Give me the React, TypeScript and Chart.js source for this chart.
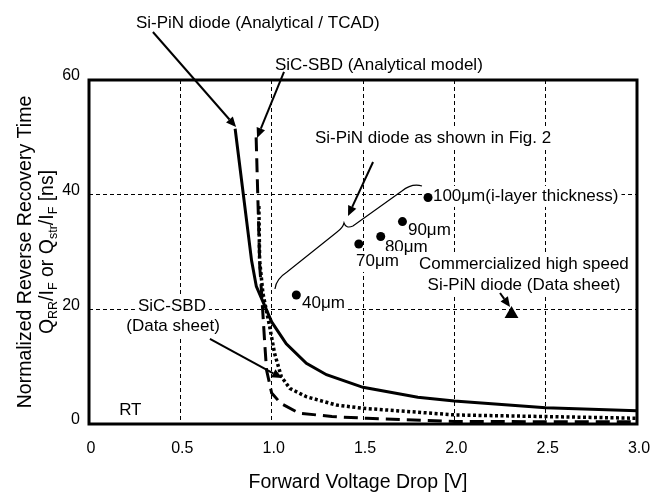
import React, { useEffect, useRef } from 'react';
import { Chart, registerables } from 'chart.js';

Chart.register(...registerables);

const FONT = '"Liberation Sans", Arial, Helvetica, sans-serif';

// Si-PiN diode (Analytical / TCAD) — solid line
const siPinV = [0.8, 0.89, 0.916, 1.0, 1.08, 1.19, 1.3, 1.5, 1.8, 2.0, 2.5, 3.0];
const siPinQ = [51.5, 28.5, 24.0, 17.8, 14.0, 10.6, 8.6, 6.4, 4.65, 4.0, 2.85, 2.3];

// SiC-SBD (Analytical model) — dashed line
const sbdModelV = [0.915, 0.935, 0.945, 0.962, 0.972, 1.0, 1.05, 1.15, 1.33, 1.52, 2.0, 2.5, 3.0];
const sbdModelQ = [50, 27.4, 22.8, 14.1, 9.4, 5.4, 3.6, 1.9, 1.3, 1.0, 0.45, 0.4, 0.38];

// SiC-SBD (Data sheet) — dotted line
const sbdSheetV = [0.93, 0.934, 0.952, 0.989, 1.016, 1.053, 1.1, 1.19, 1.355, 1.5, 2.01, 2.5, 3.0];
const sbdSheetQ = [38, 28.6, 22.8, 17.0, 12.3, 8.25, 6.2, 4.76, 3.3, 2.74, 1.57, 1.3, 1.0];

// Si-PiN diode as shown in Fig. 2 (i-layer thickness)
const fig2V = [1.135, 1.477, 1.597, 1.716, 1.856];
const fig2Q = [22.5, 31.4, 32.7, 35.3, 39.5];

// Commercialized high speed Si-PiN diode (Data sheet)
const commV = [2.313];
const commQ = [19.2];

const xTicks = [0, 0.5, 1.0, 1.5, 2.0, 2.5, 3.0];
const xTickLabels = ['0', '0.5', '1.0', '1.5', '2.0', '2.5', '3.0'];
const yTicks = [0, 20, 40, 60];
const yTickLabels = ['0', '20', '40', '60'];

// annotation texts (anchor in data units: left x / centre x, baseline y)
const notes = [
  { t: 'Si-PiN diode (Analytical / TCAD)', x: 0.257, y: 69.0 },
  { t: 'SiC-SBD (Analytical model)', x: 1.018, y: 61.75 },
  { t: 'Si-PiN diode as shown in Fig. 2', x: 1.237, y: 49.0, box: true },
  { t: '100\u03BCm(i-layer thickness)', x: 1.883, y: 38.9, box: true },
  { t: '90\u03BCm', x: 1.746, y: 32.97 },
  { t: '80\u03BCm', x: 1.62, y: 30.0 },
  { t: '70\u03BCm', x: 1.462, y: 27.56, box: true },
  { t: '40\u03BCm', x: 1.166, y: 20.23, box: true },
  { t: 'Commercialized high speed', x: 2.381, y: 27.04, box: true, center: true },
  { t: 'Si-PiN diode (Data sheet)', x: 2.381, y: 23.37, box: true, center: true },
  { t: 'SiC-SBD', x: 0.454, y: 19.71, box: true, center: true },
  { t: '(Data sheet)', x: 0.46, y: 16.22, box: true, center: true },
  { t: 'RT', x: 0.165, y: 1.57 },
];

// arrows [fromV, fromQ, toV, toQ]
const arrows = [
  [0.35, 68.37, 0.805, 51.8],
  [1.0675, 61.4, 0.92, 49.9],
  [1.555, 45.7, 1.418, 36.3],
  [2.25, 22.85, 2.305, 20.4],
  [0.662, 14.83, 1.057, 8.02],
];

const xy = (xs: number[], ys: number[]) => xs.map((x, i) => ({ x, y: ys[i] }));

const annotPlugin = {
  id: 'annot',
  beforeDatasetsDraw(chart: any) {
    const { ctx, scales } = chart;
    const px = (v: number) => scales.x.getPixelForValue(v);
    const py = (v: number) => scales.y.getPixelForValue(v);
    ctx.save();
    ctx.font = `17px ${FONT}`;
    ctx.textBaseline = 'alphabetic';
    for (const n of notes) {
      const w = ctx.measureText(n.t).width;
      const x0 = n.center ? px(n.x) - w / 2 : px(n.x);
      const yb = py(n.y);
      if (n.box) {
        ctx.fillStyle = '#fff';
        ctx.fillRect(x0 - 3, yb - 15, w + 6, 21);
      }
      ctx.fillStyle = '#000';
      ctx.textAlign = 'left';
      ctx.fillText(n.t, x0, yb);
    }
    ctx.restore();
  },
  afterDatasetsDraw(chart: any) {
    const { ctx, scales, chartArea } = chart;
    const px = (v: number) => scales.x.getPixelForValue(v);
    const py = (v: number) => scales.y.getPixelForValue(v);
    ctx.save();
    ctx.strokeStyle = '#000';
    ctx.fillStyle = '#000';
    ctx.setLineDash([]);
    // arrows
    for (const a of arrows) {
      const x1 = px(a[0]), y1 = py(a[1]), x2 = px(a[2]), y2 = py(a[3]);
      const ang = Math.atan2(y2 - y1, x2 - x1);
      const head = 10, hw = 4.5;
      const bx = x2 - head * Math.cos(ang), by = y2 - head * Math.sin(ang);
      ctx.lineWidth = 2;
      ctx.beginPath();
      ctx.moveTo(x1, y1);
      ctx.lineTo(bx, by);
      ctx.stroke();
      ctx.beginPath();
      ctx.moveTo(x2, y2);
      ctx.lineTo(bx + hw * Math.sin(ang), by - hw * Math.cos(ang));
      ctx.lineTo(bx - hw * Math.sin(ang), by + hw * Math.cos(ang));
      ctx.closePath();
      ctx.fill();
    }
    // brace
    ctx.lineWidth = 1.2;
    ctx.beginPath();
    ctx.moveTo(px(1.018), py(23.55));
    ctx.quadraticCurveTo(px(1.024), py(25.29), px(1.084), py(26.51));
    ctx.lineTo(px(1.358), py(33.49));
    ctx.quadraticCurveTo(px(1.39), py(34.19), px(1.396), py(35.06));
    ctx.quadraticCurveTo(px(1.407), py(34.01), px(1.445), py(34.54));
    ctx.lineTo(px(1.713), py(40.64));
    ctx.quadraticCurveTo(px(1.768), py(42.04), px(1.823), py(41.51));
    ctx.stroke();
    // frame
    ctx.lineWidth = 3;
    ctx.strokeRect(chartArea.left, chartArea.top, chartArea.right - chartArea.left, chartArea.bottom - chartArea.top);
    ctx.restore();
  },
  afterDraw(chart: any) {
    const { ctx, chartArea } = chart;
    ctx.save();
    ctx.fillStyle = '#000';
    // x title
    ctx.font = `19.5px ${FONT}`;
    ctx.textAlign = 'center';
    ctx.textBaseline = 'alphabetic';
    ctx.fillText('Forward Voltage Drop [V]', (chartArea.left + chartArea.right) / 2 - 5, 488);
    // y title
    const cy = (chartArea.top + chartArea.bottom) / 2;
    ctx.translate(0, cy);
    ctx.rotate(-Math.PI / 2);
    ctx.fillText('Normalized Reverse Recovery Time', 0, 31);
    const segs: [string, boolean][] = [
      ['Q', false], ['RR', true], ['/I', false], ['F', true], [' or Q', false],
      ['str', true], ['/I', false], ['F', true], [' [ns]', false],
    ];
    const mainF = `19.5px ${FONT}`, subF = `12.5px ${FONT}`;
    let total = 0;
    const widths = segs.map(([s, sub]) => {
      ctx.font = sub ? subF : mainF;
      const w = ctx.measureText(s).width;
      total += w;
      return w;
    });
    let x = -total / 2;
    ctx.textAlign = 'left';
    segs.forEach(([s, sub], i) => {
      ctx.font = sub ? subF : mainF;
      ctx.fillText(s, x, sub ? 57 : 53);
      x += widths[i];
    });
    ctx.restore();
  },
};

export default function App() {
  const ref = useRef<HTMLCanvasElement | null>(null);
  useEffect(() => {
    if (!ref.current) return;
    const chart = new Chart(ref.current, {
      type: 'scatter',
      data: {
        datasets: [
          {
            label: 'Si-PiN diode (Analytical / TCAD)',
            data: xy(siPinV, siPinQ),
            showLine: true, borderColor: '#000', borderWidth: 3, pointRadius: 0, tension: 0,
          },
          {
            label: 'SiC-SBD (Analytical model)',
            data: xy(sbdModelV, sbdModelQ),
            showLine: true, borderColor: '#000', borderWidth: 3, borderDash: [14, 7], pointRadius: 0, tension: 0,
          },
          {
            label: 'SiC-SBD (Data sheet)',
            data: xy(sbdSheetV, sbdSheetQ),
            showLine: true, borderColor: '#000', borderWidth: 3.5, borderDash: [3, 2.5], pointRadius: 0, tension: 0,
          },
          {
            label: 'Si-PiN diode as shown in Fig. 2',
            data: xy(fig2V, fig2Q),
            showLine: false, pointRadius: 4.5, pointBackgroundColor: '#000', pointBorderColor: '#000', pointBorderWidth: 0,
          },
          {
            label: 'Commercialized high speed Si-PiN diode (Data sheet)',
            data: xy(commV, commQ),
            showLine: false, pointStyle: 'triangle', pointRadius: 8, pointBackgroundColor: '#000', pointBorderColor: '#000', pointBorderWidth: 0,
          },
        ],
      },
      options: {
        responsive: false,
        maintainAspectRatio: false,
        animation: false,
        events: [],
        layout: { padding: { top: 80, right: 14, left: 0, bottom: 0 } },
        plugins: { legend: { display: false }, tooltip: { enabled: false }, title: { display: false } },
        scales: {
          x: {
            type: 'linear', min: 0, max: 3,
            afterFit: (s: any) => { s.height = 68; s.paddingLeft = 0; s.paddingRight = 0; },
            afterBuildTicks: (s: any) => { s.ticks = xTicks.map((v) => ({ value: v })); },
            ticks: {
              callback: (v: any) => xTickLabels[xTicks.indexOf(Number(v))] ?? '',
              font: { family: FONT, size: 16 }, color: '#000', padding: 15, labelOffset: 2, maxRotation: 0, autoSkip: false,
            },
            grid: { color: '#000', lineWidth: 1, drawTicks: false },
            border: { display: false, dash: [4, 3] },
          },
          y: {
            type: 'linear', min: 0, max: 60,
            afterFit: (s: any) => { s.width = 89; s.paddingTop = 0; s.paddingBottom = 0; },
            afterBuildTicks: (s: any) => { s.ticks = yTicks.map((v) => ({ value: v })); },
            ticks: {
              callback: (v: any) => yTickLabels[yTicks.indexOf(Number(v))] ?? '',
              font: { family: FONT, size: 16 }, color: '#000', padding: 9, labelOffset: -4, autoSkip: false,
            },
            grid: { color: '#000', lineWidth: 1, drawTicks: false },
            border: { display: false, dash: [4, 3] },
          },
        },
      },
      plugins: [annotPlugin],
    } as any);
    return () => chart.destroy();
  }, []);
  return (
    <div style={{ position: 'fixed', left: 0, top: 0, width: 651, height: 492, background: '#fff' }}>
      <canvas ref={ref} width={651} height={492} style={{ display: 'block' }} />
    </div>
  );
}
